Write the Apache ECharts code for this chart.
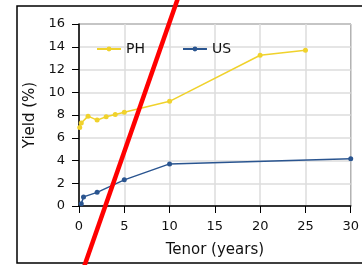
<!DOCTYPE html>
<html>
<head>
<meta charset="utf-8">
<script src="https://cdn.jsdelivr.net/npm/echarts@6/dist/echarts.min.js"></script>
<style>
  html, body { margin: 0; padding: 0; background: #fff; }
  #chart { width: 362px; height: 265px; }
</style>
</head>
<body>
<div id="chart"></div>
<script>
'use strict';

// 收益率曲线数据
var phTenor = [0.08, 0.25, 1, 2, 3, 4, 5, 10, 20, 25];
var phYield = [6.9, 7.3, 7.9, 7.55, 7.85, 8.05, 8.25, 9.2, 13.25, 13.7];
var usTenor = [0.25, 0.5, 2, 5, 10, 30];
var usYield = [0.2, 0.8, 1.2, 2.3, 3.7, 4.15];

function pairs(xs, ys) {
	var out = [];
	for (var i = 0; i < xs.length; i++) {
		out.push([xs[i], ys[i]]);
	}
	return out;
}

var font = 'DejaVu Sans, Verdana, sans-serif';
var myChart = echarts.init(document.getElementById('chart'));
var option = {
	animation : false,
	backgroundColor : '#fff',
	textStyle : { fontFamily : font },
	grid : {
		left : 79,
		top : 24,
		right : 10,
		bottom : 59,
		show : true,
		borderColor : '#000',
		borderWidth : 1
	},
	legend : {
		left : 91,
		top : 37,
		itemWidth : 24,
		itemHeight : 6,
		itemGap : 37,
		textStyle : { fontSize : 14, color : '#111', fontFamily : font },
		data : ['PH', 'US']
	},
	xAxis : {
		type : 'value',
		min : 0,
		max : 30,
		interval : 5,
		name : 'Tenor (years)',
		nameLocation : 'middle',
		nameGap : 37,
		nameTextStyle : { fontSize : 15, color : '#111' },
		axisLine : { lineStyle : { color : '#000', width : 1.5 } },
		axisTick : { show : true, length : 7, lineStyle : { color : '#000' } },
		axisLabel : { fontSize : 13, color : '#111', margin : 14 },
		splitLine : { show : true, lineStyle : { color : '#ddd', width : 1.5 } }
	},
	yAxis : {
		type : 'value',
		min : 0,
		max : 16,
		interval : 2,
		name : 'Yield (%)',
		nameLocation : 'middle',
		nameGap : 40,
		nameTextStyle : { fontSize : 15, color : '#111' },
		axisLine : { show : true, lineStyle : { color : '#000', width : 1.5 } },
		axisTick : { show : true, length : 7, lineStyle : { color : '#000' } },
		axisLabel : { fontSize : 13, color : '#111', margin : 14 },
		splitLine : { show : true, lineStyle : { color : '#ddd', width : 1.5 } }
	},
	series : [ {
		name : 'PH',
		type : 'line',
		data : pairs(phTenor, phYield),
		symbol : 'circle',
		symbolSize : 5,
		color : '#f0d22c',
		lineStyle : { width : 1.5 }
	}, {
		name : 'US',
		type : 'line',
		data : pairs(usTenor, usYield),
		symbol : 'circle',
		symbolSize : 5,
		color : '#2a5590',
		lineStyle : { width : 1.5 }
	} ],
	graphic : [ {
		type : 'rect',
		shape : { x : 17, y : 6, width : 360, height : 257 },
		style : { fill : null, stroke : '#000', lineWidth : 1.5 },
		z : 0
	}, {
		type : 'line',
		shape : { x1 : 178, y1 : -2, x2 : 84, y2 : 267 },
		style : { stroke : '#ff0000', lineWidth : 4.5 },
		z : 100
	} ]
};
myChart.setOption(option);
</script>
</body>
</html>
